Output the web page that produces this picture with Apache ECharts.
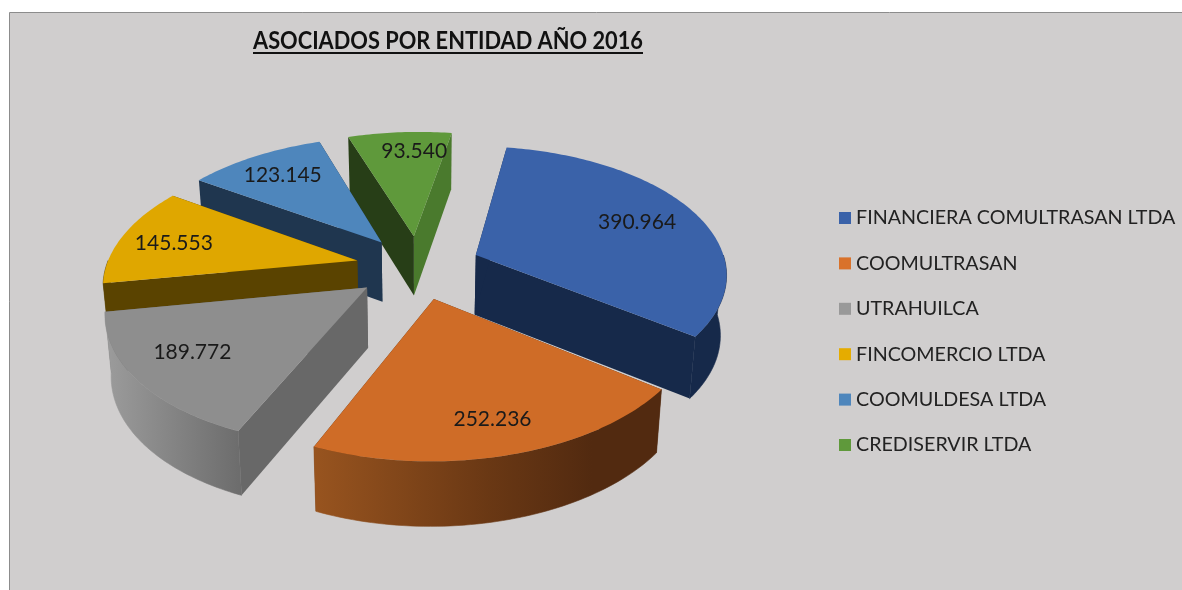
<!DOCTYPE html>
<html><head><meta charset="utf-8">
<style>html,body{margin:0;padding:0;background:#fff}#c{width:1182px;height:590px}</style>
<script src="https://cdn.jsdelivr.net/npm/echarts@6/dist/echarts.min.js"></script>
</head><body><div id="c"></div>
<script>
var categories = ['FINANCIERA COMULTRASAN LTDA','COOMULTRASAN','UTRAHUILCA','FINCOMERCIO LTDA','COOMULDESA LTDA','CREDISERVIR LTDA'];
var associates = [390964,252236,189772,145553,123145,93540];
var valueLabels = ['390.964','252.236','189.772','145.553','123.145','93.540'];

// styling, per slice
var topColors = ['#3A62A9','#CF6C27','#8E8E8E','#DFA700','#4E86BC','#5F993B'];
var legendColors = ['#3A62A9','#D9722B','#999999','#E5AC00','#4E86BC','#5F993B'];
var startWall = ['#16294A','#522A10','#686868','#5A4300','#1F364F','#273E17'];
var endWall   = ['#16294A','#522A10','#686868','#5A4300','#1F364F','#4A7A2D'];
var arcWall = [
  [[0,'#16294A'],[1,'#16294A']],
  [[0,'#98541F'],[0.5,'#6A3814'],[0.8,'#522A10'],[1,'#522A10']],
  [[0,'#9C9C9C'],[1,'#6C6C6C']],
  [[0,'#5A4300'],[1,'#5A4300']],
  [[0,'#1F364F'],[1,'#1F364F']],
  [[0,'#273E17'],[1,'#273E17']]
];
var paintOrder = [3,5,4,2,1,0];       // z for each slice (back to front)
var labelFraction = [0.745,0.80,0.76,0.77,0.76,0.81];
var labelNudgeX = [-2,-1,-4,-2,0,12];
var labelNudgeY = [1,0,-4,2,0,1];

// pie camera
var cx=414.5, cy=267, rx=251, ry=128, persp=0.147, depth=60, explode=0.25, firstAngle=9, shearA=3.5, shearB=5;
var total = associates.reduce(function(a,b){return a+b;},0);
var starts = associates.map(function(v,i){
  return firstAngle + associates.slice(0,i).reduce(function(a,b){return a+b;},0)/total*360;
});
function rad(d){return d*Math.PI/180;}
function project(X,Y,z){
  var s=1/(1+persp*Y);
  return [cx+shearA+shearB*Y*s+rx*X*s*(1-0.02*z), cy-ry*Y*s+depth*z*Math.pow(s,0.4)];
}
function makeItem(i){
  return function(params, api){
    var value=api.value(0);
    var a=starts[i], b=a+value/total*360, m=(a+b)/2;
    var ox=explode*Math.sin(rad(m)), oy=explode*Math.cos(rad(m));
    function rim(t,z){return project(ox+Math.sin(rad(t)),oy+Math.cos(rad(t)),z);}
    function hub(z){return project(ox,oy,z);}
    var top=[hub(0)], n=Math.max(8,Math.ceil(b-a));
    for(var k=0;k<=n;k++) top.push(rim(a+(b-a)*k/n,0));
    var children=[];
    children.push({type:'polygon',shape:{points:[hub(0),rim(b,0),rim(b,1),hub(1)]},style:{fill:endWall[i]}});
    children.push({type:'polygon',shape:{points:[hub(0),rim(a,0),rim(a,1),hub(1)]},style:{fill:startWall[i]}});
    var fa=Math.max(a,90), fb=Math.min(b,270);
    if(fb>fa){
      var up=[],down=[],xmin=1e9,xmax=-1e9;
      for(var k=0;k<=60;k++){
        var t=fa+(fb-fa)*k/60, p=rim(t,0), q=rim(t,1);
        up.push(p);down.unshift(q);
        xmin=Math.min(xmin,p[0],q[0]);xmax=Math.max(xmax,p[0],q[0]);
      }
      var grad=new echarts.graphic.LinearGradient(xmin,0,xmax,0,arcWall[i].map(function(s){return {offset:s[0],color:s[1]};}),true);
      children.push({type:'polygon',shape:{points:up.concat(down)},style:{fill:grad,stroke:grad,lineWidth:0.6}});
    }
    children.push({type:'polygon',shape:{points:top},style:{fill:topColors[i]}});
    var f=labelFraction[i], lp=project(ox+f*Math.sin(rad(m)),oy+f*Math.cos(rad(m)),0);
    children.push({type:'text',x:lp[0]+labelNudgeX[i],y:lp[1]+labelNudgeY[i],z2:50,style:{text:valueLabels[i],fill:'#1a1a1a',
      font:'21px Lato',align:'center',verticalAlign:'middle'}});
    return {type:'group',children:children};
  };
}
var chart=echarts.init(document.getElementById('c'),null,{renderer:'canvas'});
chart.setOption({
  animation:false,
  backgroundColor:'#ffffff',
  legend:{orient:'vertical',left:839,top:208,itemWidth:12,itemHeight:12,itemGap:25.4,icon:'rect',selectedMode:false,
    padding:0,data:categories,textStyle:{fontFamily:'Lato',fontSize:19.7,color:'#222',padding:[0,0,0,0]}},
  graphic:[
    {type:'rect',z:-10,silent:true,shape:{x:9.5,y:12.5,width:1300,height:700},style:{fill:'#D0CECE',stroke:'#8C8C8C',lineWidth:1}},
    {type:'text',z:10,silent:true,x:253,y:41,scaleX:0.872,style:{text:'ASOCIADOS POR ENTIDAD AÑO 2016',font:'bold 25px Lato',fill:'#111',verticalAlign:'middle'}},
    {type:'line',z:10,silent:true,shape:{x1:253,y1:53,x2:643,y2:53},style:{stroke:'#111',lineWidth:2}}
  ],
  series:categories.map(function(name,i){
    return {type:'custom',name:name,coordinateSystem:'none',silent:true,z:2+paintOrder[i],
      itemStyle:{color:legendColors[i]},data:[[associates[i]]],renderItem:makeItem(i)};
  })
});
</script></body></html>
